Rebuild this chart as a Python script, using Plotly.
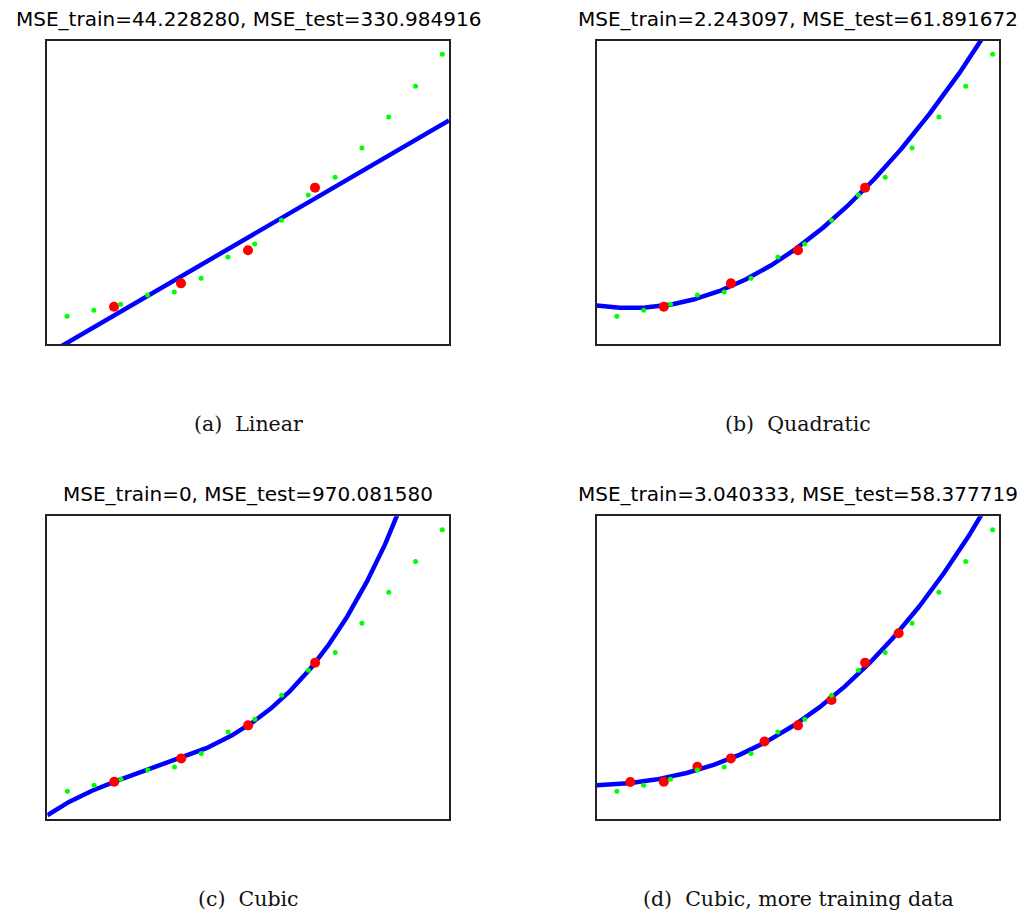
import numpy as np
import plotly.graph_objects as go

# ---- data ----
x_test = [0.75, 1.75, 2.75, 3.75, 4.75, 5.75, 6.75, 7.75, 8.75, 9.75, 10.75, 11.75, 12.75, 13.75, 14.75]
y_test = [18.5, 22.4, 26.4, 32.5, 34.5, 43.5, 57.6, 66.1, 81.8, 98.4, 110.1, 129.4, 149.9, 170.1, 191.2]

x_train_small = [2.5, 5.0, 7.5, 10.0]
y_train_small = [24.8, 40.2, 62.0, 103.3]

x_train_large = [1.25, 2.5, 3.75, 5.0, 6.25, 7.5, 8.75, 10.0, 11.25]
y_train_large = [24.6, 24.8, 34.7, 40.2, 51.4, 62.0, 78.7, 103.3, 122.8]

titles = [
    "MSE_train=44.228280, MSE_test=330.984916",
    "MSE_train=2.243097, MSE_test=61.891672",
    "MSE_train=0, MSE_test=970.081580",
    "MSE_train=3.040333, MSE_test=58.377719",
]
captions = ["(a)\u00a0 Linear", "(b)\u00a0 Quadratic", "(c)\u00a0 Cubic", "(d)\u00a0 Cubic, more training data"]
degrees = [1, 2, 3, 3]
x_range = [0, 15]
y_range = [0, 200]

W, H = 1026, 915
# axes boxes in pixels: (left, right, top, bottom)
boxes = [
    (47.0, 449.0, 41.0, 344.3),
    (596.7, 999.3, 41.0, 344.3),
    (47.3, 449.0, 516.3, 819.3),
    (596.7, 999.3, 516.3, 819.3),
]
title_y = [19, 19, 494, 494]
caption_y = [424, 424, 899, 899]

fig = go.Figure()
x_grid = np.linspace(x_range[0], x_range[1], 400)

for i in range(4):
    if i < 3:
        xt, yt = x_train_small, y_train_small
    else:
        xt, yt = x_train_large, y_train_large
    coef = np.polyfit(xt, yt, degrees[i])
    y_fit = np.polyval(coef, x_grid)
    ax = "" if i == 0 else str(i + 1)
    xa, ya = "x" + ax, "y" + ax
    fig.add_trace(go.Scatter(x=x_grid, y=y_fit, mode="lines",
                             line=dict(color="#0000ff", width=4.5),
                             xaxis=xa, yaxis=ya, showlegend=False, hoverinfo="skip"))
    fig.add_trace(go.Scatter(x=xt, y=yt, mode="markers",
                             marker=dict(color="#ff0000", size=10),
                             xaxis=xa, yaxis=ya, showlegend=False, cliponaxis=False))
    fig.add_trace(go.Scatter(x=x_test, y=y_test, mode="markers",
                             marker=dict(color="#00ff00", size=5),
                             xaxis=xa, yaxis=ya, showlegend=False, cliponaxis=False))

    l, r, t, b = boxes[i]
    axis_common = dict(showgrid=False, zeroline=False, showticklabels=False, ticks="",
                       showline=True, mirror=True, linecolor="#222222", linewidth=1.5,
                       fixedrange=True)
    fig.layout["xaxis" + ax] = dict(domain=[l / W, r / W], range=x_range, anchor=ya, **axis_common)
    fig.layout["yaxis" + ax] = dict(domain=[1 - b / H, 1 - t / H], range=y_range, anchor=xa, **axis_common)

    cx = (l + r) / 2 / W
    fig.add_annotation(text=titles[i], x=cx, y=1 - title_y[i] / H, xref="paper", yref="paper",
                       showarrow=False, xanchor="center", yanchor="middle",
                       font=dict(family="DejaVu Sans", size=20, color="#000000"))
    fig.add_annotation(text=captions[i], x=cx, y=1 - caption_y[i] / H, xref="paper", yref="paper",
                       showarrow=False, xanchor="center", yanchor="middle",
                       font=dict(family="DejaVu Serif", size=20.5, color="#111111"))

fig.update_layout(width=W, height=H, margin=dict(l=0, r=0, t=0, b=0),
                  paper_bgcolor="white", plot_bgcolor="white")

fig.write_html("out.html")
